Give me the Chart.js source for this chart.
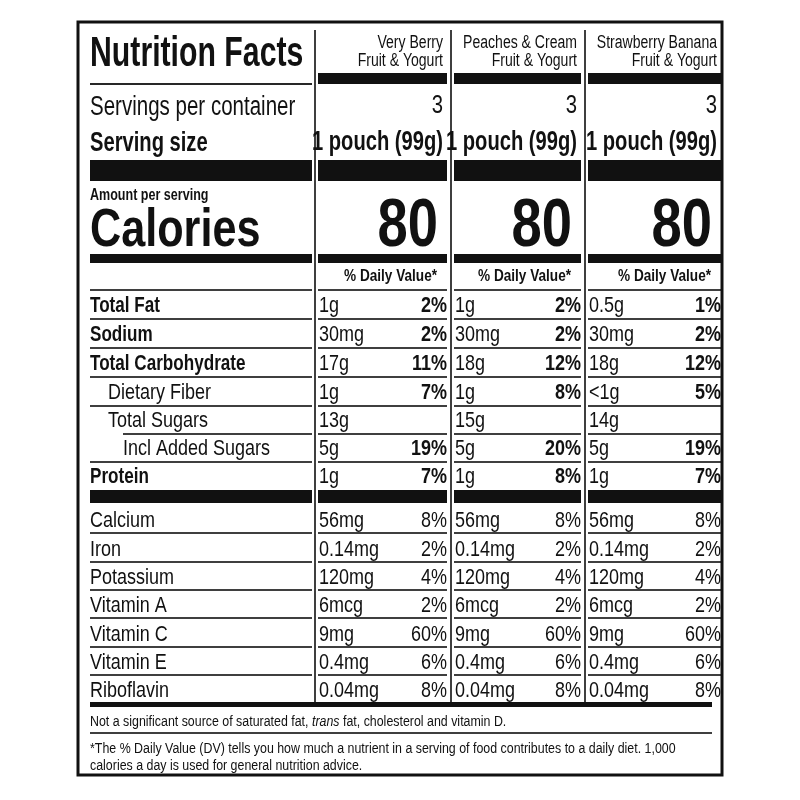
<!DOCTYPE html>
<html>
<head>
<meta charset="utf-8">
<script src="https://cdn.jsdelivr.net/npm/chart.js@4"></script>
<style>body{margin:0;background:#fff}canvas{display:block}</style>
</head>
<body>
<canvas id="label" width="800" height="800"></canvas>
<script>
// data
var products = ['Very Berry|Fruit & Yogurt', 'Peaches & Cream|Fruit & Yogurt', 'Strawberry Banana|Fruit & Yogurt'];
var servings = ['3', '3', '3'];
var servingSize = ['1 pouch (99g)', '1 pouch (99g)', '1 pouch (99g)'];
var calories = ['80', '80', '80'];

var mainLabels = ['Total Fat', 'Sodium', 'Total Carbohydrate', 'Dietary Fiber', 'Total Sugars', 'Incl Added Sugars', 'Protein'];
var mainAmounts = [
  ['1g', '30mg', '17g', '1g', '13g', '5g', '1g'],
  ['1g', '30mg', '18g', '1g', '15g', '5g', '1g'],
  ['0.5g', '30mg', '18g', '<1g', '14g', '5g', '1g']
];
var mainDV = [
  ['2%', '2%', '11%', '7%', '', '19%', '7%'],
  ['2%', '2%', '12%', '8%', '', '20%', '8%'],
  ['1%', '2%', '12%', '5%', '', '19%', '7%']
];

var microLabels = ['Calcium', 'Iron', 'Potassium', 'Vitamin A', 'Vitamin C', 'Vitamin E', 'Riboflavin'];
var microAmounts = [
  ['56mg', '0.14mg', '120mg', '6mcg', '9mg', '0.4mg', '0.04mg'],
  ['56mg', '0.14mg', '120mg', '6mcg', '9mg', '0.4mg', '0.04mg'],
  ['56mg', '0.14mg', '120mg', '6mcg', '9mg', '0.4mg', '0.04mg']
];
var microDV = [
  ['8%', '2%', '4%', '2%', '60%', '6%', '8%'],
  ['8%', '2%', '4%', '2%', '60%', '6%', '8%'],
  ['8%', '2%', '4%', '2%', '60%', '6%', '8%']
];

// layout (label units = scale units)
var colLeft = [315, 451, 585];
var mainLines = [290, 319, 348, 377, 406, 434, 462, 490];
var microLines = [503, 533, 562, 590, 618, 647, 675, 703];
var indents = [90, 90, 90, 108, 108, 123, 90];
var boldLabel = [true, true, true, false, false, false, true];
var FONT = '"Liberation Sans Narrow", "Liberation Sans", Arial, sans-serif';

var labelPlugin = {
  id: 'nutritionLabel',
  afterDraw: function (chart) {
    var ctx = chart.ctx, X = chart.scales.x, Y = chart.scales.y;
    function px(v) { return X.getPixelForValue(v); }
    function py(v) { return Y.getPixelForValue(v); }
    function text(s, x, y, size, bold, align, sx, italic) {
      ctx.save();
      ctx.font = (italic ? 'italic ' : '') + (bold ? 'bold ' : '') + size + 'px ' + FONT;
      ctx.fillStyle = '#111';
      ctx.textBaseline = 'alphabetic';
      ctx.textAlign = align || 'left';
      ctx.translate(px(x), py(y));
      ctx.scale(sx || 0.8, 1);
      ctx.fillText(s, 0, 0);
      ctx.restore();
    }
    function width(s, size, bold, sx) {
      ctx.save();
      ctx.font = (bold ? 'bold ' : '') + size + 'px ' + FONT;
      var w = ctx.measureText(s).width * (sx || 0.8);
      ctx.restore();
      return w;
    }
    function rect(x1, y1, x2, y2) {
      ctx.fillStyle = '#111';
      ctx.fillRect(px(x1), py(y1), px(x2) - px(x1), py(y2) - py(y1));
    }
    function hline(x1, x2, y, w) { rect(x1, y - (w || 1.6) / 2, x2, y + (w || 1.6) / 2); }
    function spanAll(y1, y2) {
      rect(90, y1, 312, y2);
      colLeft.forEach(function (c, i) { rect(c + 3, y1, (i < 2 ? colLeft[i + 1] : 725) - 4, y2); });
    }

    // outer border
    ctx.strokeStyle = '#111';
    ctx.lineWidth = 3;
    ctx.strokeRect(px(78), py(22), px(722) - px(78), py(775) - py(22));

    // column dividers
    colLeft.forEach(function (c) { rect(c - 0.8, 30, c + 0.8, 703); });

    // header
    text('Nutrition Facts', 90, 66, 42, true, 'left', 0.72);
    hline(90, 312, 84, 1.8);
    colLeft.forEach(function (c, i) {
      var r = (i < 2 ? colLeft[i + 1] : 725) - 8;
      var parts = products[i].split('|');
      text(parts[0], r, 48, 18, false, 'right', 0.78);
      text(parts[1], r, 66, 18, false, 'right', 0.78);
      rect(c + 3, 73, r + 4, 84);
      text(servings[i], r, 113, 26, false, 'right', 0.78);
      text(servingSize[i], r, 150, 28, true, 'right', 0.72);
      text(calories[i], r - 5, 246, 68, true, 'right', 0.8);
      text('% Daily Value*', r - 6, 281, 17, true, 'right', 0.8);
    });
    text('Servings per container', 90, 115, 27, false, 'left', 0.76);
    text('Serving size', 90, 151, 28, true, 'left', 0.72);
    spanAll(160, 181);
    text('Amount per serving', 90, 200, 16.5, true, 'left', 0.76);
    text('Calories', 90, 246, 54, true, 'left', 0.8);
    spanAll(254, 263);

    // main nutrients
    hline(90, 312, mainLines[0]);
    mainLabels.forEach(function (lab, r) {
      var base = mainLines[r + 1] - 7;
      text(lab, indents[r], base, 22.5, boldLabel[r], 'left', boldLabel[r] ? 0.76 : 0.8);
      if (r < 6) hline(r === 4 ? 123 : 90, 312, mainLines[r + 1]);
      colLeft.forEach(function (c, i) {
        var right = (i < 2 ? colLeft[i + 1] : 725) - 4;
        text(mainAmounts[i][r], c + 4, base, 22.5, false, 'left', 0.8);
        if (mainDV[i][r]) text(mainDV[i][r], right, base, 22.5, true, 'right', 0.8);
      });
    });
    colLeft.forEach(function (c, i) {
      var right = (i < 2 ? colLeft[i + 1] : 725) - 4;
      mainLines.slice(0, 7).forEach(function (y) { hline(c + 3, right, y); });
    });
    spanAll(490, 503);

    // vitamins and minerals
    microLabels.forEach(function (lab, r) {
      var base = microLines[r + 1] - 6;
      text(lab, 90, base, 22.5, false, 'left', 0.8);
      if (r < 6) hline(90, 312, microLines[r + 1]);
      colLeft.forEach(function (c, i) {
        var right = (i < 2 ? colLeft[i + 1] : 725) - 4;
        text(microAmounts[i][r], c + 4, base, 22.5, false, 'left', 0.8);
        text(microDV[i][r], right, base, 22.5, false, 'right', 0.8);
        if (r < 6) hline(c + 3, right, microLines[r + 1]);
      });
    });
    rect(90, 702, 712, 707);

    // footnotes
    var f = 15.5, s = 0.8, x = 90;
    var seg = [['Not a significant source of saturated fat, ', false], ['trans', true], [' fat, cholesterol and vitamin D.', false]];
    seg.forEach(function (p) {
      text(p[0], x, 726, f, false, 'left', s, p[1]);
      ctx.save();
      ctx.font = (p[1] ? 'italic ' : '') + f + 'px ' + FONT;
      x += ctx.measureText(p[0]).width * s;
      ctx.restore();
    });
    hline(90, 712, 733, 1.6);
    text('*The % Daily Value (DV) tells you how much a nutrient in a serving of food contributes to a daily diet. 1,000', 90, 753, f, false, 'left', s);
    text('calories a day is used for general nutrition advice.', 90, 770, f, false, 'left', s);
  }
};

new Chart(document.getElementById('label').getContext('2d'), {
  type: 'scatter',
  data: { datasets: [{ data: [], pointRadius: 0 }] },
  options: {
    responsive: false,
    animation: false,
    devicePixelRatio: 1,
    layout: { padding: 0 },
    plugins: { legend: { display: false }, tooltip: { enabled: false } },
    scales: {
      x: { type: 'linear', min: 0, max: 800, display: false },
      y: { type: 'linear', min: 0, max: 800, reverse: true, display: false }
    }
  },
  plugins: [labelPlugin]
});
</script>
</body>
</html>
